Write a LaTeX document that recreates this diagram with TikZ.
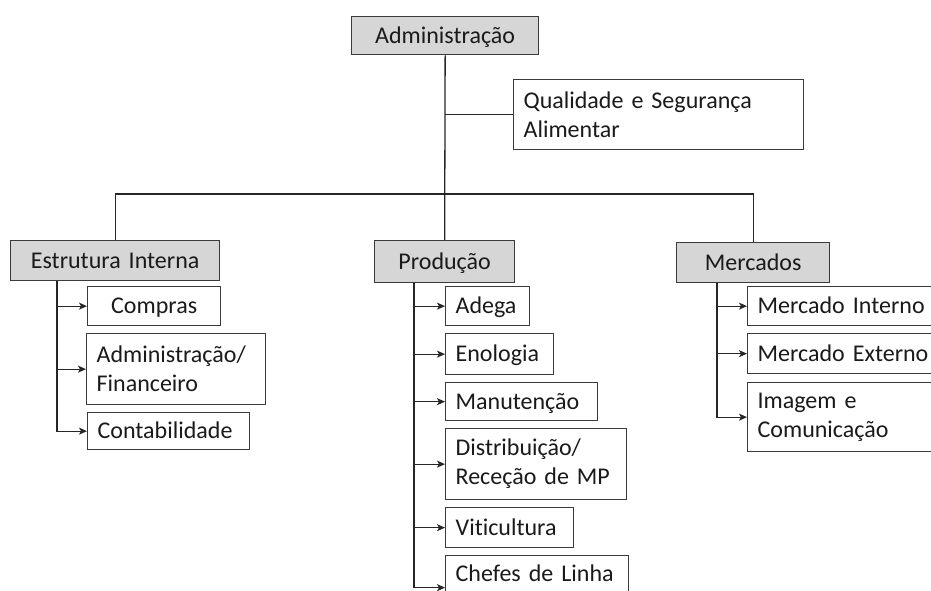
\documentclass[tikz,border=0pt]{standalone}
\usepackage{fontspec}
\setmainfont{Carlito}[Ligatures=NoCommon]
\usetikzlibrary{arrows.meta}
\definecolor{boxline}{HTML}{3A3A3A}
\definecolor{boxgray}{HTML}{D6D6D6}
\definecolor{txt}{HTML}{1A1A1A}
\begin{document}
\begin{tikzpicture}[x=1pt,y=-1pt,
  box/.style={draw=boxline, line width=1.3pt, fill=white, anchor=north west,
    inner xsep=10pt, inner ysep=0pt, align=left, text=txt,
    font=\fontsize{24}{29}\selectfont},
  one/.style={text height=19.5pt, text depth=4pt},
  gbox/.style={box, one, fill=boxgray, align=center},
  conn/.style={draw=black!85, line width=1.3pt},
  arr/.style={conn, -{Stealth[length=8pt,width=7pt,inset=2pt]}}
]
\useasboundingbox (0,0) rectangle (931,591);
\clip (0,0) rectangle (931,591);

% top level
\node[gbox, text width=167pt, minimum height=38pt] (admin) at (351,16) {Administração};
\node[box, text width=270pt, minimum height=70pt] (qual) at (513,79) {Qualidade e Segurança\\Alimentar};

% second level
\node[gbox, text width=189pt, minimum height=40pt] (est) at (10,240) {\mbox{Estrutura Interna}};
\node[gbox, text width=120pt, minimum height=42pt] (prod) at (374,240) {Produção};
\node[gbox, text width=133pt, minimum height=40pt] (merc) at (676,242) {Mercados};

% Estrutura Interna children
\node[box, one, align=center, text width=113pt, minimum height=39pt] (compras) at (87,286) {Compras};
\node[box, text width=159pt, minimum height=71pt] (admfin) at (86,333) {Administração/\\Financeiro};
\node[box, one, text width=142pt, minimum height=37pt] (contab) at (87,412) {Contabilidade};

% Producao children
\node[box, one, text width=64pt, minimum height=39pt] (adega) at (445,286) {Adega};
\node[box, one, text width=88pt, minimum height=41pt] (enol) at (445,333) {Enologia};
\node[box, one, text width=132pt, minimum height=38pt] (manut) at (445,382) {Manutenção};
\node[box, text width=161pt, minimum height=71pt] (distr) at (445,428) {Distribuição/\\\mbox{Receção de MP}};
\node[box, one, text width=108pt, minimum height=40pt] (vitic) at (445,507) {Viticultura};
\node[box, text width=163pt, minimum height=64pt] (chefes) at (445,555) {\mbox{Chefes de Linha}\\\mbox{}};

% Mercados children
\node[box, one, text width=185pt, minimum height=39pt] (mi) at (747,286) {\mbox{Mercado Interno}};
\node[box, one, text width=185pt, minimum height=40pt] (me) at (747,333) {\mbox{Mercado Externo}};
\node[box, text width=185pt, minimum height=69pt] (img) at (747,382) {Imagem e\\Comunicação};

% trunk and top connectors
\draw[conn] (admin.south) -- (prod.north);
\draw[conn] (admin.south |- qual.west) -- (qual.west);
\draw[conn] (est.north) -- ++(0,-46) -| (merc.north);

% Estrutura Interna branch
\draw[arr] ([xshift=47pt]est.south west) |- (compras.west);
\draw[arr] ([xshift=47pt]est.south west) |- (admfin.west);
\draw[arr] ([xshift=47pt]est.south west) |- (contab.west);

% Producao branch
\draw[arr] ([xshift=40pt]prod.south west) |- (adega.west);
\draw[arr] ([xshift=40pt]prod.south west) |- (enol.west);
\draw[arr] ([xshift=40pt]prod.south west) |- (manut.west);
\draw[arr] ([xshift=40pt]prod.south west) |- (distr.west);
\draw[arr] ([xshift=40pt]prod.south west) |- (vitic.west);
\draw[arr] ([xshift=40pt]prod.south west) |- (chefes.west);

% Mercados branch
\draw[arr] ([xshift=41pt]merc.south west) |- (mi.west);
\draw[arr] ([xshift=41pt]merc.south west) |- (me.west);
\draw[arr] ([xshift=41pt]merc.south west) |- (img.west);
\end{tikzpicture}
\end{document}
